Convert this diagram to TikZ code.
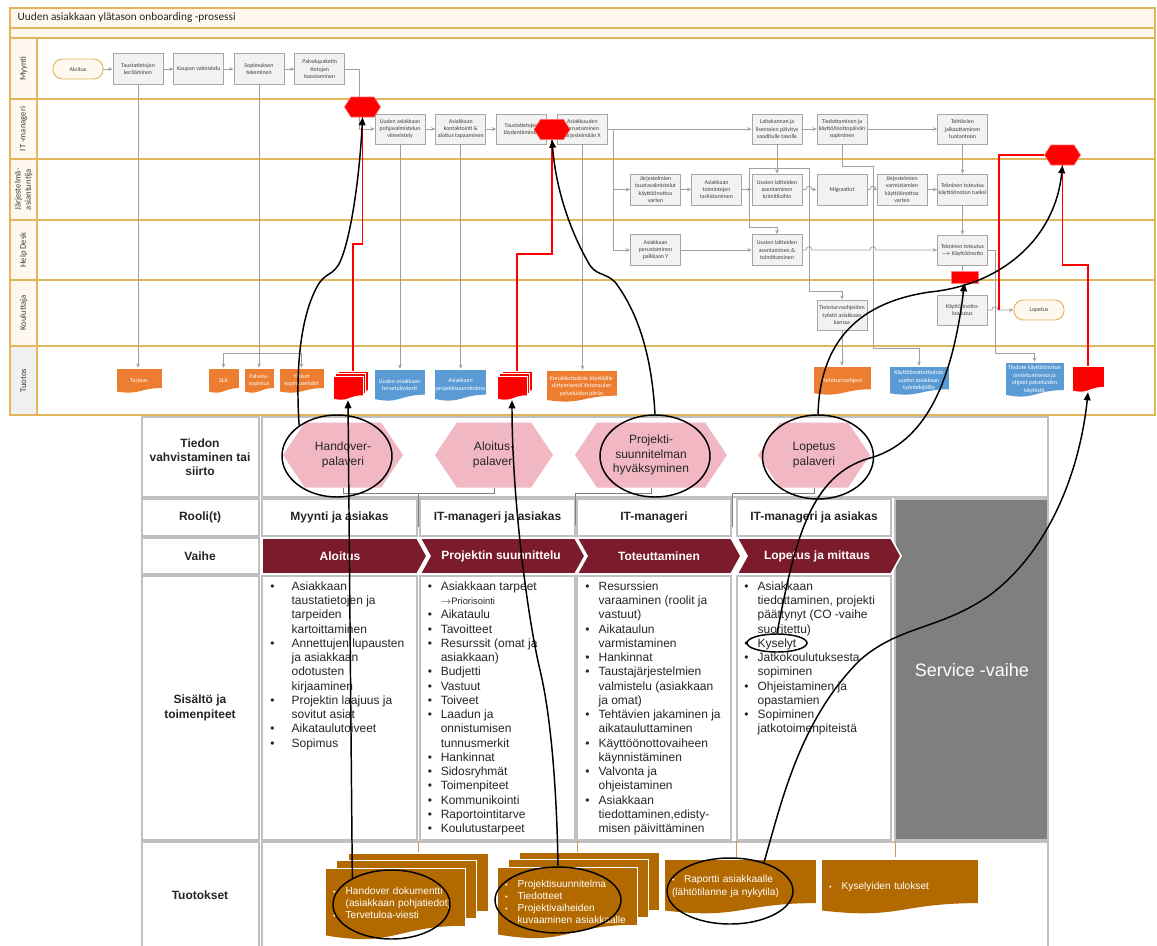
\documentclass[tikz,border=0pt]{standalone}
\usepackage{fontspec}
\setmainfont{Liberation Sans}
\newfontfamily\calibri{Carlito}
\usepackage{tikz}
\usetikzlibrary{arrows.meta,positioning,shapes.geometric,shapes.symbols,calc}
\definecolor{lanegold}{HTML}{E2B65A}
\definecolor{lanecream}{HTML}{FFF8EF}
\definecolor{tuotosgray}{HTML}{F0F0F0}
\definecolor{boxgray}{HTML}{F2F2F2}
\definecolor{boxline}{HTML}{A6A6A6}
\definecolor{linegray}{HTML}{A0A0A0}
\definecolor{docorange}{HTML}{ED7D31}
\definecolor{docblue}{HTML}{5B9BD5}
\definecolor{flagred}{HTML}{FF0000}
\definecolor{hexpink}{HTML}{F1B7C3}
\definecolor{phasered}{HTML}{7B1B2C}
\definecolor{gridgray}{HTML}{C0C0C0}
\definecolor{docbrown}{HTML}{B26A00}
\definecolor{servgray}{HTML}{7F7F7F}
\definecolor{bk90}{HTML}{262626}
\definecolor{bk70}{HTML}{404040}
\definecolor{elbowgray}{HTML}{808080}
\definecolor{ticktan}{HTML}{C49A5E}
\newdimen\pxu \pxu=0.75pt
\newcommand{\smbul}{{\fontsize{5.5}{6}\selectfont\textbullet}}
\tikzset{
  lanerule/.style={draw=lanegold, line width=1.1pt},
  lanehead/.style={lanerule, fill=lanecream},
  lanelabel/.style={rotate=90, font=\calibri\fontsize{6.5}{7.6}\selectfont,
    align=center, text=bk70},
  procbox/.style={rectangle, draw=boxline, fill=boxgray, line width=0.6pt,
    minimum width=50\pxu, minimum height=31\pxu, inner sep=0.5pt,
    font=\calibri\fontsize{4.4}{5.3}\selectfont, align=center, text=bk70},
  termbox/.style={rectangle, rounded corners=7pt, draw=lanegold, fill=lanecream,
    line width=0.7pt, minimum width=50\pxu, minimum height=20\pxu,
    font=\calibri\fontsize{4.4}{5.3}\selectfont, text=bk70},
  docnode/.style={rectangle, draw=white, line width=0.4pt, align=center, inner sep=1pt,
    path picture={\fill[#1] let \p1=(path picture bounding box.north west),
      \p2=(path picture bounding box.south east), \n1={\y1-\y2} in
      (\x1,\y1) -- (\x2,\y1) -- (\x2,{\y2+0.198*\n1})
      .. controls ({(\x1+\x2)/2},{\y2+0.198*\n1}) and ({(\x1+\x2)/2},{\y2-0.107*\n1})
      .. (\x1,{\y2+0.066*\n1}) -- cycle;}},
  lanedoc/.style={docnode=#1, text=white, font=\calibri\fontsize{4.5}{5.6}\selectfont},
  lanedoc/.default=docorange,
  flow/.style={draw=linegray, line width=0.6pt, -{Stealth[length=3.2pt,width=2.8pt]}},
  redhex/.style={signal, signal to=east and west, signal pointer angle=114,
    fill=flagred, draw=flagred!60, line width=0.4pt, inner sep=0pt,
    minimum width=36\pxu, minimum height=20\pxu},
  redbar/.style={rectangle, fill=flagred, draw=flagred!50, line width=0.4pt,
    inner sep=0pt, minimum width=27\pxu, minimum height=12\pxu},
  redline/.style={draw=flagred, line width=1.3pt},
  cellbox/.style={draw=gridgray, line width=1pt, fill=white},
  headtext/.style={font=\bfseries\fontsize{9}{10.7}\selectfont, align=center, text=bk90},
  meeting/.style={signal, signal to=east and west, signal pointer angle=112,
    fill=hexpink, inner sep=0pt, minimum height=65\pxu,
    font=\fontsize{9}{10.7}\selectfont, align=center, text=bk90},
  phasetext/.style={font=\bfseries\fontsize{9}{10.7}\selectfont, text=white},
  listtext/.style={inner sep=0pt, anchor=north west,
    font=\fontsize{9}{10.7}\selectfont, text=bk90},
  browndoc/.style={docnode=docbrown, line width=0.75pt, minimum width=140\pxu,
    minimum height=72\pxu, text width=124\pxu, inner xsep=6pt, align=left,
    text=white, font=\fontsize{7.6}{9.2}\selectfont},
  ring/.style={ellipse, draw=black, line width=1.1pt, inner sep=0pt},
  tiearrow/.style={draw=black, line width=1.1pt, -{Triangle[length=6pt,width=5pt]}},
  elbow/.style={draw=elbowgray, line width=0.6pt},
  tanline/.style={draw=ticktan, line width=0.7pt},
}

\begin{document}
\begin{tikzpicture}[x=0.75pt, y=-0.75pt]
\useasboundingbox (0,0) rectangle (1157,946);
\fill[white] (0,0) rectangle (1157,946);

% Swimlane frame and lanes
\draw[lanehead] (10,8) rectangle (1155,28);
\node[anchor=west, font=\calibri\fontsize{8.5}{10}\selectfont, text=bk90] (title) at (13,18) {Uuden asiakkaan ylätason onboarding -prosessi};
\draw[lanehead] (10,28) rectangle (1155,38);
\foreach \ytop/\ybot/\lname [count=\i] in {38/99/Myynti, 99/159/IT -manageri,
    159/220/{Järjestelmä-\\asiantuntija}, 220/280/Help Desk, 280/346/Kouluttaja}{
  \draw[lanerule, fill=white] (37,\ytop) rectangle (1155,\ybot);
  \draw[lanehead] (10,\ytop) rectangle (37,\ybot);
  \node[lanelabel] (lane\i) at (23.5,{(\ytop+\ybot)/2}) {\lname};
}
\draw[lanerule, fill=white] (37,346) rectangle (1155,415);
\draw[lanerule, fill=tuotosgray] (10,346) rectangle (37,415);
\node[lanelabel] (lane6) at (23.5,380.5) {Tuotos};

% Table cells
\foreach \ytop/\ybot in {417/497, 499/536, 538/574, 576/840, 842/950}
  \draw[cellbox] (142,\ytop) rectangle (259,\ybot);
\draw[cellbox] (262,417) rectangle (1048,497);
\foreach \xl/\xr in {262/417, 420/575, 577/731, 737/891}{
  \draw[cellbox] (\xl,499) rectangle (\xr,536);
  \draw[cellbox] (\xl,576) rectangle (\xr,840);
}
\draw[cellbox, fill=servgray] (895,499) rectangle (1048,840);
\draw[cellbox] (262,842) rectangle (1048,950);

% Row labels
\node[headtext] (lblTieto) at (200,457) {Tiedon\\vahvistaminen tai\\siirto};
\node[headtext] (lblRooli) at (200,517.5) {Rooli(t)};
\node[headtext] (lblVaihe) at (200,556) {Vaihe};
\node[headtext] (lblSisalto) at (200,708) {Sisältö ja\\toimenpiteet};
\node[headtext] (lblTuotos) at (200,895) {Tuotokset};

% Meetings
\node[meeting, minimum width=120\pxu] (meetHand) at (343,455) {Handover-\\palaveri};
\node[meeting, minimum width=118\pxu] (meetAloi) at (494,455) {Aloitus-\\palaveri};
\node[meeting, minimum width=152\pxu] (meetProj) at (651,455) {Projekti-\\suunnitelman\\hyväksyminen};
\node[meeting, minimum width=112\pxu] (meetLop) at (814,455) {Lopetus\\palaveri};
\coordinate (elbA) at (418,493.5);
\coordinate (elbAend) at (418,527);
\draw[elbow] (meetHand.south) -- ++(0,6) -| (meetAloi.south);
\draw[elbow] (elbA) -- (elbAend);
\draw[elbow] (meetProj.south) -- ++(0,6) -| (575,525);
\draw[elbow] (meetLop.south) -- ++(0,6) -| (732,527);

% Roles
\node[headtext] (rooli1) at (339.5,517.5) {Myynti ja asiakas};
\node[headtext] (rooli2) at (497.5,517.5) {IT-manageri ja asiakas};
\node[headtext] (rooli3) at (654,517.5) {IT-manageri};
\node[headtext] (rooli4) at (814,517.5) {IT-manageri ja asiakas};

% Phases
\fill[phasered, draw=white, line width=1.2pt] (262,538) -- (417,538) -- (427,556) -- (417,574) -- (262,574) -- cycle;
\foreach \xl/\xr in {420/575, 577/731, 737/891}
  \fill[phasered, draw=white, line width=1.2pt] (\xl,538) -- (\xr,538) -- (\xr+10,556) -- (\xr,574) -- (\xl,574) -- (\xl+10,556) -- cycle;
\node[phasetext] (vaihe1) at (340,556) {Aloitus};
\node[phasetext] (vaihe2) at (501,556) {Projektin suunnittelu};
\node[phasetext] (vaihe3) at (659,556) {Toteuttaminen};
\node[phasetext] (vaihe4) at (817,556) {Lopetus ja mittaus};

% Contents
\node[listtext] (lista1) at (270,580) {\begin{tabular}{@{}p{16pt}@{}l@{}}
\textbullet & Asiakkaan\\ & taustatietojen ja\\ & tarpeiden\\ & kartoittaminen\\
\textbullet & Annettujen lupausten\\ & ja asiakkaan\\ & odotusten\\ & kirjaaminen\\
\textbullet & Projektin laajuus ja\\ & sovitut asiat\\
\textbullet & Aikataulutoiveet\\
\textbullet & Sopimus
\end{tabular}};
\node[listtext] (lista2) at (427.5,580) {\begin{tabular}{@{}p{9.75pt}@{}l@{}}
\textbullet & Asiakkaan tarpeet\\ & {\fontsize{7}{8}\selectfont$\rightarrow$Priorisointi}\\
\textbullet & Aikataulu\\
\textbullet & Tavoitteet\\
\textbullet & Resurssit (omat ja\\ & asiakkaan)\\
\textbullet & Budjetti\\
\textbullet & Vastuut\\
\textbullet & Toiveet\\
\textbullet & Laadun ja\\ & onnistumisen\\ & tunnusmerkit\\
\textbullet & Hankinnat\\
\textbullet & Sidosryhmät\\
\textbullet & Toimenpiteet\\
\textbullet & Kommunikointi\\
\textbullet & Raportointitarve\\
\textbullet & Koulutustarpeet
\end{tabular}};
\node[listtext] (lista3) at (585,580) {\begin{tabular}{@{}p{10pt}@{}l@{}}
\textbullet & Resurssien\\ & varaaminen (roolit ja\\ & vastuut)\\
\textbullet & Aikataulun\\ & varmistaminen\\
\textbullet & Hankinnat\\
\textbullet & Taustajärjestelmien\\ & valmistelu (asiakkaan\\ & ja omat)\\
\textbullet & Tehtävien jakaminen ja\\ & aikatauluttaminen\\
\textbullet & Käyttöönottovaiheen\\ & käynnistäminen\\
\textbullet & Valvonta ja\\ & ohjeistaminen\\
\textbullet & Asiakkaan\\ & tiedottaminen,edisty-\\ & misen päivittäminen
\end{tabular}};
\node[listtext] (lista4) at (744,580) {\begin{tabular}{@{}p{10pt}@{}l@{}}
\textbullet & Asiakkaan\\ & tiedottaminen, projekti\\ & päättynyt (CO -vaihe\\ & suoritettu)\\
\textbullet & Kyselyt\\
\textbullet & Jatkokoulutuksesta\\ & sopiminen\\
\textbullet & Ohjeistaminen ja\\ & opastamien\\
\textbullet & Sopiminen\\ & jatkotoimenpiteistä
\end{tabular}};
\node[font=\fontsize{13.5}{16}\selectfont, text=white] (service) at (972,670) {Service -vaihe};

% Outputs
\foreach \xt/\yb in {418/852, 577/852, 736/857, 895/857}
  \draw[tanline] (\xt,841) -- (\xt,\yb);
\node[browndoc] (hdocC) at (418,889) {};
\node[browndoc] (hdocB) at (406.5,896) {};
\node[browndoc] (hdocA) at (395,904) {\begin{tabular}{@{}p{9.5pt}@{}l@{}}
\smbul & Handover dokumentti\\ & (asiakkaan pohjatiedot)\\ \smbul & Tervetuloa-viesti\end{tabular}};
\node[browndoc] (pdocC) at (589,888) {};
\node[browndoc] (pdocB) at (578,895) {};
\node[browndoc] (pdocA) at (567,903) {\begin{tabular}{@{}p{9.5pt}@{}l@{}}
\smbul & Projektisuunnitelma\\ \smbul & Tiedotteet\\ \smbul & Projektivaiheiden\\ & kuvaaminen asiakkaalle\end{tabular}};
\node[browndoc, minimum width=152\pxu, text width=136\pxu, minimum height=55\pxu] (rdoc) at (740,886.5)
  {\makebox[9pt][l]{\smbul}Raportti asiakkaalle\\(lähtötilanne ja nykytila)};
\node[browndoc, minimum width=157\pxu, text width=141\pxu, minimum height=55\pxu] (kdoc) at (899.5,886.5)
  {\makebox[9.5pt][l]{\smbul}Kyselyiden tulokset};

% Myynti lane
\node[termbox] (aloitus) at (78,69) {Aloitus};
\node[procbox] (tausta) at (138,69) {Taustatietojen\\kerääminen};
\node[procbox, right=7.5pt of tausta] (kauppa) {Kaupan valmistelu};
\node[procbox, right=7pt of kauppa] (sopimus) {Sopimuksen\\tekeminen};
\node[procbox, right=7.5pt of sopimus] (palvelu) {Palvelupaketin\\tietojen\\koostaminen};

% IT-manageri lane
\node[procbox, minimum height=30\pxu] (pohja) at (400,129) {Uuden asiakkaan\\pohjavalmistelun\\viimeistely};
\node[procbox, minimum height=30\pxu, right=7.5pt of pohja] (kontakti) {Asiakkaan\\kontaktointi \&\\aloitus tapaaminen};
\node[procbox, minimum height=30\pxu, right=7.5pt of kontakti] (taydennys) {Taustatietojen\\täydentäminen};
\node[procbox, minimum height=30\pxu, right=7.5pt of taydennys] (asiakkuus) {Asiakkuuden\\perustaminen\\järjestelmään X};
\node[procbox, minimum height=30\pxu] (laitekanta) at (777,129) {Laitekannan ja\\lisenssien päivitys\\vaaditulle tasolle};
\node[procbox, minimum height=30\pxu] (tiedotus) at (842,129) {Tiedottaminen ja\\käyttöönottopäivän\\sopiminen};
\node[procbox, minimum height=30\pxu] (jalkautus) at (962.5,129) {Tehtävien\\jalkauttaminen\\tuotantoon};

% Jarjestelma-asiantuntija lane
\node[procbox] (jarjtausta) at (655.5,189.5) {Järjestelmien\\taustavalmistelut\\käyttöönottoa\\varten};
\node[procbox] (toiminnot) at (716.5,189.5) {Asiakkaan\\toimintojen\\tarkistaminen};
\node[procbox] (laitteet) at (777,189.5) {Uusien laitteiden\\asentaminen\\toimitiloihin};
\node[procbox] (migraatio) at (842,189.5) {Migraatiot};
\node[procbox] (varmistus) at (902,189.5) {Järjestelmien\\varmistamien\\käyttöönottoa\\varten};
\node[procbox] (tekntuki) at (962.5,189.5) {Tekninen toteutus\\käyttöönoton tueksi};

% Help Desk lane
\node[procbox] (perustus) at (655.5,250) {Asiakkaan\\perustaminen\\palkkaan Y};
\node[procbox] (asennus) at (777,250) {Uusien laitteiden\\asentaminen \&\\toimittaminen};
\node[procbox, minimum height=30\pxu] (kayttoon) at (962.5,250) {Tekninen toteutus\\$\rightarrow$ Käyttöönotto};

% Kouluttaja lane
\node[procbox, minimum height=30\pxu] (tietoturva) at (842,315) {Tietoturvaohjeiden\\työstö asiakkaan\\kanssa};
\node[procbox, minimum height=30\pxu] (koulutus) at (962.5,310) {Käyttöönotto-\\koulutus};
\node[termbox] (lopetus) at (1039,310) {Lopetus};

% Tuotos lane
\node[lanedoc, minimum width=46\pxu, minimum height=25\pxu] (tarjous) at (139,380.5) {Tarjous};
\node[lanedoc, minimum width=31\pxu, minimum height=25\pxu] (sla) at (223.5,380.5) {SLA};
\node[lanedoc, minimum width=30\pxu, minimum height=25\pxu] (palvsop) at (259,380.5) {Palvelu-\\sopimus};
\node[lanedoc, minimum width=45\pxu, minimum height=25\pxu] (yleiset) at (301.5,380.5) {Yleiset\\sopimusehdot};
\node[lanedoc=flagred, minimum width=30\pxu, minimum height=24\pxu] (redDocA3) at (353,383) {};
\node[lanedoc=flagred, minimum width=30\pxu, minimum height=24\pxu] (redDocA2) at (350.5,385.5) {};
\node[lanedoc=flagred, minimum width=30\pxu, minimum height=24\pxu] (redDocA) at (348,388) {};
\node[lanedoc=docblue, minimum width=51\pxu, minimum height=32\pxu] (terveviesti) at (399.5,385) {Uuden asiakkaan\\tervetuloviesti};
\node[lanedoc=docblue, minimum width=51\pxu, minimum height=32\pxu] (projsuun) at (460.5,385) {Asiakkaan\\projektisuunnitelma};
\node[lanedoc=flagred, minimum width=30\pxu, minimum height=24\pxu] (redDocB3) at (517,383) {};
\node[lanedoc=flagred, minimum width=30\pxu, minimum height=24\pxu] (redDocB2) at (514.5,385.5) {};
\node[lanedoc=flagred, minimum width=30\pxu, minimum height=24\pxu] (redDocB) at (512,388) {};
\node[lanedoc, minimum width=71\pxu, minimum height=32\pxu] (ennakko) at (581.5,386) {Ennakkotiedote käyttäjille\\siirtymisestä Vetonaulan\\palveluiden piiriin};
\node[lanedoc, minimum width=58\pxu, minimum height=29\pxu] (tietoohje) at (842,380.5) {Tietoturvaohjeet};
\node[lanedoc=docblue, minimum width=60\pxu, minimum height=29\pxu] (kaytiedote) at (919,380.5) {Käyttöönottotiedote\\uuden asiakkaan\\työntekijöille};
\node[lanedoc=docblue, minimum width=59\pxu, minimum height=35\pxu] (onnistuminen) at (1034.5,379.5) {Tiedote käyttöönoton\\onnistumisesta ja\\ohjeet palveluiden\\käytöstä};
\node[lanedoc=flagred, minimum width=32\pxu, minimum height=26\pxu] (redDocC) at (1088,379) {};

% Process flow
\draw[flow] (aloitus.east) -- (tausta.west);
\draw[flow] (tausta.east) -- (kauppa.west);
\draw[flow] (kauppa.east) -- (sopimus.west);
\draw[flow] (sopimus.east) -- (palvelu.west);
\draw[flow] (palvelu.east) -- ++(14,0) |- (pohja.west);
\draw[flow] (tausta.south) -- (tausta.south |- tarjous.north);
\draw[flow] (sopimus.south) -- (sopimus.south |- palvsop.north);
\coordinate (sopBranch) at (sopimus.south |- 0,353);
\draw[flow] (sopBranch) -| (sla.north);
\draw[flow] (sopBranch) -| (yleiset.north);
\draw[flow] (pohja.east) -- (kontakti.west);
\draw[flow] (kontakti.east) -- (taydennys.west);
\draw[flow] (taydennys.east) -- (asiakkuus.west);
\draw[flow] (pohja.south) -- (pohja.south |- terveviesti.north);
\draw[flow] (kontakti.south) -- (kontakti.south |- projsuun.north);
\draw[flow] (asiakkuus.south) -- (asiakkuus.south |- ennakko.north);
\draw[flow] (asiakkuus.east) -- (laitekanta.west);
\coordinate (itBranch) at ($(asiakkuus.east)+(6,0)$);
\draw[flow] (itBranch) |- (jarjtausta.west);
\draw[flow] (itBranch) |- (perustus.west);
\draw[flow] (laitekanta.east) -- (tiedotus.west);
\draw[flow] (tiedotus.east) -- (jalkautus.west);
\draw[flow] (jarjtausta.east) -- (toiminnot.west);
\draw[flow] (toiminnot.east) -- (laitteet.west);
\draw[flow] (laitekanta.south) -- (laitteet.north);
\coordinate (lkBranch) at ($(laitekanta.south)+(0,24)$);
\draw[flow] (lkBranch) -- ++(-28,0) |- ($(asennus.north)+(0,-7)$) -- (asennus.north);
\draw[flow] (lkBranch) -- ++(32,0) |- ($(tietoturva.north)+(0,-8)$) -- (tietoturva.north);
\draw[flow] (laitteet.east) -- (806,189.5) .. controls (806,185) and (812,185) .. (812,189.5) -- (migraatio.west);
\draw[flow] (migraatio.east) -- (870,189.5) .. controls (870,185) and (876,185) .. (876,189.5) -- (varmistus.west);
\draw[flow] (varmistus.east) -- (tekntuki.west);
\draw[flow] (perustus.east) -- (asennus.west);
\draw[flow] (asennus.east) -- (806,250) .. controls (806,245.5) and (812,245.5) .. (812,250) -- (870,250)
  .. controls (870,245.5) and (876,245.5) .. (876,250) -- (kayttoon.west);
\draw[flow] (tiedotus.south) -- ++(0,22) -| (873,348) -| (kaytiedote.north);
\draw[flow] (jalkautus.south) -- (tekntuki.north);
\draw[flow] (tekntuki.south) -- (kayttoon.north);
\draw[flow] (kayttoon.south) -- (koulutus.north);
\draw[flow] (kayttoon.east) -- ++(7,0) |- ($(onnistuminen.north)+(0,-8)$) -- (onnistuminen.north);
\draw[flow] (koulutus.east) -- (992,310) .. controls (992,305.5) and (998,305.5) .. (998,310) -- (lopetus.west);
\draw[flow] (tietoturva.south) -- (tietoohje.north);

% Red markers
\coordinate (bendA) at (362.5,244);
\coordinate (bendB) at (552,254);
\coordinate (bendC) at (1088,265);
\coordinate (lopEnd) at (999,310);
\node[redhex] (redHexA) at (362.5,107) {};
\node[redhex] (redHexB) at (552,129.5) {};
\node[redhex] (redHexC) at (1062.5,155) {};
\node[redbar] (redRect) at (964.5,277) {};
\draw[redline] (redDocA3.north) |- (bendA) -- (redHexA.south);
\draw[redline] (redDocB3.north) |- (bendB) -- (redHexB.south);
\draw[redline] (redHexC.west) -| (lopEnd);
\draw[redline] (redHexC.south) |- (bendC) -- (redDocC.north);

% Rings
\node[ring, minimum width=110\pxu, minimum height=82\pxu] (ovHand) at (337,456) {};
\node[ring, minimum width=110\pxu, minimum height=82\pxu] (ovProj) at (655,456) {};
\node[ring, minimum width=111\pxu, minimum height=84\pxu] (ovLop) at (818,457) {};
\node[ring, minimum width=60\pxu, minimum height=18\pxu] (ovKys) at (777,643) {};
\node[ring, minimum width=117\pxu, minimum height=69\pxu] (ovHdoc) at (391.5,904.5) {};
\node[ring, minimum width=126\pxu, minimum height=66\pxu] (ovPdoc) at (558,900) {};
\node[ring, minimum width=126\pxu, minimum height=66\pxu] (ovRap) at (730,891) {};

% Ties from table to process
\draw[tiearrow] (ovHand.141) .. controls (296,380) and (298,320) .. (318,285)
  .. controls (326,272) and (333,276) .. (340,262) .. controls (352,235) and (360,170) .. (redHexA.south);
\draw[tiearrow] (ovHdoc.146) -- (redDocA.south);
\draw[tiearrow] (ovPdoc.north) .. controls (557,800) and (552,720) .. (540,670)
  .. controls (528,620) and (512,500) .. (redDocB.south);
\draw[tiearrow] (ovProj.north) .. controls (652,360) and (640,315) .. (615,282)
  .. controls (605,272) and (595,276) .. (588,262) .. controls (570,230) and (556,190) .. (redHexB.south);
\draw[tiearrow] (ovLop.north) .. controls (820,340) and (860,302) .. (930,292)
  .. controls (1000,285) and (1055,240) .. (redHexC.south);
\draw[tiearrow] (ovKys.north) .. controls (795,540) and (810,475) .. (870,458)
  .. controls (935,440) and (955,360) .. (redRect.south);
\draw[tiearrow] (ovRap.40) .. controls (782,800) and (800,720) .. (860,660)
  .. controls (900,625) and (940,630) .. (990,595) .. controls (1050,550) and (1080,470) .. (redDocC.south);
\end{tikzpicture}
\end{document}
